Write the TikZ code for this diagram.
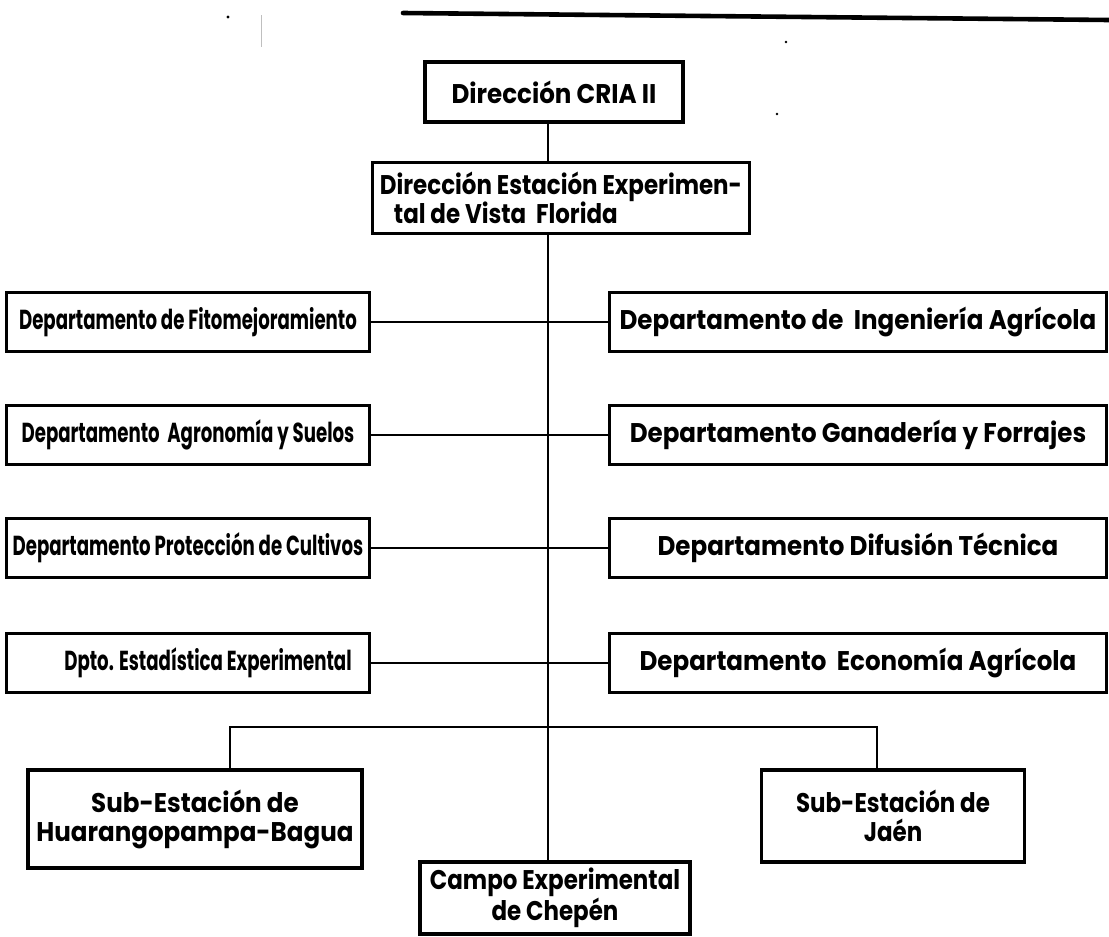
\documentclass[tikz,border=0pt]{standalone}
\usepackage{fontspec}
% one typeface, set at several widths
\newfontfamily\narrowface{Poppins}[FakeStretch=0.66]
\newfontfamily\midface{Poppins}[FakeStretch=0.85]
\newfontfamily\wideface{Poppins}[FakeStretch=0.91]
\usetikzlibrary{calc}
\begin{document}
\begin{tikzpicture}[x=1pt,y=-1pt,
  orgbox/.style={draw, line width=3.4pt, inner sep=0pt, align=center},
  fnarrow/.style={font=\narrowface\bfseries\fontsize{27.5}{29}\selectfont},
  fmid/.style={font=\midface\bfseries\fontsize{27}{29}\selectfont},
  fwide/.style={font=\wideface\bfseries\fontsize{27}{29}\selectfont},
  link/.style={line width=2.6pt}]
\useasboundingbox (0,0) rectangle (1109,937);

% heading rule and stray marks of the printed page
\draw[line width=4.6pt, line cap=round] (403,13) -- (1109,20);
\fill (228,17) circle (1.6pt);
\draw[gray!50, line width=0.8pt] (261,15) -- (261,47);
\fill (786,42) circle (1.4pt);
\fill (777,114) circle (1.4pt);

% top of the chart
\node[orgbox, fwide, minimum width=258pt, minimum height=60pt] (cria) at (554,92) {Dirección CRIA II};
\node[orgbox, fmid, minimum width=377pt, minimum height=71pt, align=left] (dir) at (561,198)
  {Dirección Estación Experimen-\\\hspace*{14pt}tal de Vista\ \ Florida};

% departments
\tikzset{lbox/.style={orgbox, fnarrow, minimum width=363pt, minimum height=59pt},
         rbox/.style={orgbox, fwide, minimum width=497pt, minimum height=59pt}}
\node[lbox] (l1) at (188,322) {Departamento de Fitomejoramiento};
\node[lbox] (l2) at (188,435) {Departamento\ \ Agronomía y Suelos};
\node[lbox] (l3) at (188,548) {Departamento Protección de Cultivos};
\node[lbox] (l4) at (188,663) {\hspace*{40pt}Dpto. Estadística Experimental};
\node[rbox] (r1) at (858,322) {Departamento de\ \ Ingeniería Agrícola};
\node[rbox] (r2) at (858,435) {Departamento Ganadería y Forrajes};
\node[rbox] (r3) at (858,548) {Departamento Difusión Técnica};
\node[rbox] (r4) at (858,663) {Departamento\ \ Economía Agrícola};

% field stations
\node[orgbox, fwide, minimum width=334pt, minimum height=98pt] (sub1) at (195,819)
  {Sub-Estación de\\Huarangopampa-Bagua};
\node[orgbox, fmid, minimum width=263pt, minimum height=92pt] (sub2) at (893,816)
  {Sub-Estación de\\Jaén};
\node[orgbox, fmid, minimum width=270pt, minimum height=72pt] (campo) at (555,898)
  {Campo Experimental\\de Chepén};

% connectors
\coordinate (spine) at (548,0);
\coordinate (barL) at (230,727);
\coordinate (barR) at (877,727);
\draw[link] (spine |- cria.south) -- (spine |- dir.north);
\draw[link] (spine |- dir.south) -- (spine |- campo.north);
\foreach \i in {1,...,4}{\draw[link] (l\i.east) -- (r\i.west);}
\draw[link] (barL |- sub1.north) -- (barL) -- (barR) -- (barR |- sub2.north);
\end{tikzpicture}
\end{document}
